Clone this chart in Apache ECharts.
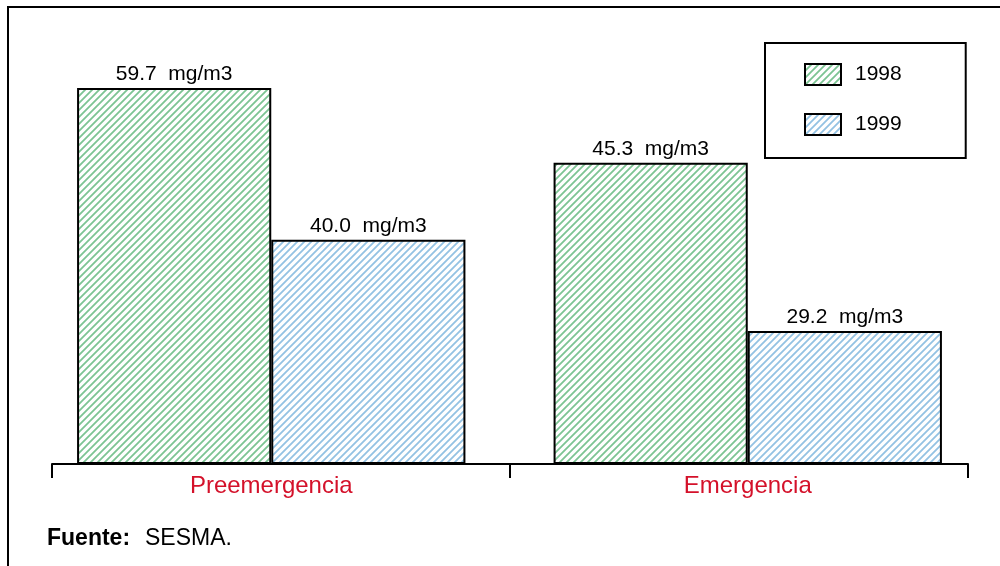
<!DOCTYPE html>
<html><head><meta charset="utf-8">
<script src="https://cdn.jsdelivr.net/npm/echarts@6/dist/echarts.min.js"></script>
<style>html,body{margin:0;padding:0;background:#fff}#c{width:1000px;height:566px}</style>
</head><body><div id="c"></div>
<script>
// Data
const categories = ['Preemergencia', 'Emergencia'];
const seriesNames = ['1998', '1999'];
// bar heights as drawn in the picture (relative scale)
const values1998 = [59.7, 47.8];
const values1999 = [35.6, 21.1];
// printed value labels
const labels1998 = ['59.7', '45.3'];
const labels1999 = ['40.0', '29.2'];
const unit = 'mg/m3';

function hatch(color) {
  const s = 7;
  const c = document.createElement('canvas');
  c.width = s; c.height = s;
  const g = c.getContext('2d');
  g.fillStyle = '#fff'; g.fillRect(0, 0, s, s);
  g.strokeStyle = color; g.lineWidth = 1.8;
  g.beginPath();
  g.moveTo(0, s); g.lineTo(s, 0);
  g.moveTo(-2, 2); g.lineTo(2, -2);
  g.moveTo(s - 2, s + 2); g.lineTo(s + 2, s - 2);
  g.stroke();
  return { image: c, repeat: 'repeat' };
}
const green = hatch('#7cc493');
const blue = hatch('#93c2e3');

const chart = echarts.init(document.getElementById('c'), null, { renderer: 'canvas' });
const font = 'Liberation Sans, Arial, sans-serif';
function mkSeries(name, vals, labs, fill) {
  return {
    name: name, type: 'bar', xAxisIndex: 0, yAxisIndex: 0,
    data: vals, barGap: '0%', barCategoryGap: '18.5%',
    itemStyle: { color: fill, borderColor: '#000', borderWidth: 2 },
    label: {
      show: true, position: 'top', distance: 3, color: '#000',
      fontFamily: font, fontSize: 21,
      formatter: p => labs[p.dataIndex] + '  ' + unit
    },
    emphasis: { disabled: true }
  };
}
chart.setOption({
  animation: false,
  textStyle: { fontFamily: font },
  grid: [
    { left: 33, right: 14, top: 86, bottom: 102 },
    { left: 52, right: 32, top: 86, bottom: 102 }
  ],
  xAxis: [
    { type: 'category', gridIndex: 0, data: categories,
      axisLine: { show: false }, axisTick: { show: false },
      axisLabel: { color: '#d4112a', fontSize: 24, margin: 10, fontFamily: font } },
    { type: 'category', gridIndex: 1, data: categories, position: 'bottom',
      axisLine: { lineStyle: { color: '#000', width: 2 } },
      axisTick: { show: true, length: 14, lineStyle: { color: '#000', width: 2 } },
      axisLabel: { show: false } }
  ],
  yAxis: [
    { type: 'value', gridIndex: 0, min: 0, max: 60, show: false },
    { type: 'value', gridIndex: 1, min: 0, max: 60, show: false }
  ],
  legend: {
    data: seriesNames, orient: 'vertical', left: 765, top: 43,
    padding: [20, 64, 22, 39], itemWidth: 36, itemHeight: 21, itemGap: 27,
    borderColor: '#000', borderWidth: 2, icon: 'rect',
    textStyle: { fontSize: 21, lineHeight: 21, color: '#000', fontFamily: font, padding: [0, 0, 0, 9] },
    itemStyle: { borderColor: '#000', borderWidth: 2 },
    selectedMode: false
  },
  series: [
    mkSeries(seriesNames[0], values1998, labels1998, green),
    mkSeries(seriesNames[1], values1999, labels1999, blue)
  ],
  graphic: [
    { type: 'rect', shape: { x: 8, y: 7, width: 1200, height: 800 },
      style: { fill: 'none', stroke: '#000', lineWidth: 2 }, silent: true },
    { type: 'text', left: 47, top: 527,
      style: { text: 'Fuente:', font: 'bold 23px ' + font, fill: '#000' } },
    { type: 'text', left: 145, top: 527,
      style: { text: 'SESMA.', font: '23px ' + font, fill: '#000' } }
  ]
});
</script></body></html>
